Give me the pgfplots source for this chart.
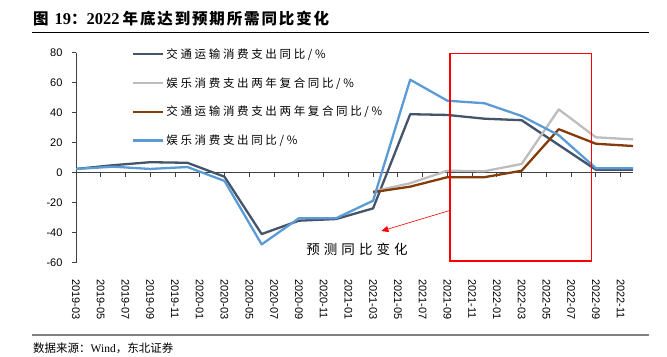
\documentclass[border=0pt]{standalone}
\usepackage{fontspec}
\usepackage{pgfplots}
\pgfplotsset{compat=1.18}
\usetikzlibrary{arrows.meta}
\setmainfont{Liberation Sans}
\newfontfamily\cjk{Noto Sans CJK SC}
\newfontfamily\cjkt[LetterSpace=12]{Noto Sans CJK SC}
\newfontfamily\cjkleg[LetterSpace=23]{Noto Sans CJK SC}
\newfontfamily\cjkann[LetterSpace=30]{Noto Sans CJK SC}
\newfontfamily\serif{Liberation Serif}
\definecolor{cdark}{HTML}{44546A}
\definecolor{cgray}{HTML}{BDBDBD}
\definecolor{cbrown}{HTML}{843C0C}
\definecolor{cblue}{HTML}{5B9BD5}
\definecolor{caxis}{HTML}{404040}

\pgfplotstableread{
x y
0 2.5
3 5.0
6 7.0
9 6.6
12 -2.7
15 -40.9
18 -32.0
21 -30.9
24 -23.8
27 39.0
30 38.5
33 36.0
36 35.0
39 18.5
42 2.0
45 2.0
}\transyoy
\pgfplotstableread{
x y
24 -12.5
27 -7.0
30 1.3
33 1.0
36 5.8
39 42.2
42 23.6
45 22.2
}\entcagr
\pgfplotstableread{
x y
24 -13.0
27 -9.3
30 -3.0
33 -3.0
36 1.3
39 29.0
42 19.3
45 17.8
}\transcagr
\pgfplotstableread{
x y
0 2.5
3 4.0
6 2.5
9 3.8
12 -5.5
15 -47.8
18 -30.4
21 -30.4
24 -18.7
27 62.0
30 48.0
33 46.3
36 37.8
39 25.0
42 3.0
45 3.0
}\entyoy

\begin{document}
\begin{tikzpicture}
\useasboundingbox (0,0) rectangle (667bp,357bp);
% title
\node[anchor=base west, inner sep=0pt] at (33bp,332.5bp) {\cjkt\bfseries\fontsize{15.5bp}{18bp}\selectfont 图\hspace{6bp}{\serif\bfseries\fontsize{16.5bp}{18bp}\selectfont 19}：{\serif\bfseries\fontsize{16.5bp}{18bp}\selectfont 2022}\hspace{3bp}年底达到预期所需同比变化};
\draw[black, line width=0.9bp] (32bp,324.7bp) -- (649bp,324.7bp);
\draw[gray, line width=1.5bp] (32bp,22bp) -- (649bp,22bp);
\node[anchor=west, inner sep=0pt] at (33bp,8.8bp) {\cjk\fontsize{11.5bp}{13bp}\selectfont 数据来源：{\serif Wind}，东北证券};

% zero line with ticks
\begin{axis}[at={(76bp,94.3bp)}, anchor=south west, scale only axis,
  width=557bp, height=210bp,
  xmin=0, xmax=45, ymin=-60, ymax=80,
  axis x line=middle, axis y line=none,
  axis line style={-},
  x axis line style={draw=caxis, line width=0.9bp},
  xtick={0,2,...,44}, xticklabels={}, ytick=\empty,
  tick align=outside, major tick length=4bp,
  xtick style={draw=caxis, line width=0.9bp},
  hide obscured x ticks=false]
\end{axis}

\begin{axis}[at={(76bp,94.3bp)}, anchor=south west, scale only axis,
  width=557bp, height=210bp,
  xmin=0, xmax=45, ymin=-60, ymax=80,
  axis y line=left, axis x line=bottom,
  x axis line style={draw=none},
  y axis line style={-, draw=caxis, line width=0.9bp},
  xtick={0,2,...,44},
  xticklabels={2019-03,2019-05,2019-07,2019-09,2019-11,2020-01,2020-03,2020-05,2020-07,2020-09,2020-11,2021-01,2021-03,2021-05,2021-07,2021-09,2021-11,2022-01,2022-03,2022-05,2022-07,2022-09,2022-11},
  xtick style={draw=none},
  ytick={-60,-40,...,80},
  ytick style={draw=caxis, line width=0.9bp},
  tick align=outside, major tick length=4bp,
  tick label style={font=\fontsize{11bp}{13bp}\selectfont},
  /pgf/number format/assume math mode=true,
  xticklabel style={rotate=-90, anchor=west},
  xticklabel shift=9bp,
  yticklabel shift=6bp,
  legend style={at={(0.1005,1.03)}, anchor=north west, draw=none, fill=none,
    inner sep=0pt, row sep=13.5bp, font=\cjkleg\fontsize{11.5bp}{13bp}\selectfont},
  legend cell align=left,
  legend image code/.code={\draw[#1] (0bp,0bp) -- (30bp,0bp);},
  every axis plot/.append style={line width=2.3bp, line join=round}]
\addplot[cdark, mark=none] table {\transyoy};
\addlegendentry{交通运输消费支出同比/\%}
\addplot[cgray, mark=none] table {\entcagr};
\addlegendentry{娱乐消费支出两年复合同比/\%}
\addplot[cbrown, mark=none] table {\transcagr};
\addlegendentry{交通运输消费支出两年复合同比/\%}
\addplot[cblue, mark=none] table {\entyoy};
\addlegendentry{娱乐消费支出同比/\%}
\draw[red, line width=1.5bp] (axis cs:30.2,-58.7) rectangle (axis cs:41.65,79.6);
\draw[red, line width=0.6bp, -{Triangle[length=7bp,width=6bp]}] (axis cs:30.15,-25.3) -- (axis cs:24.67,-38.9);
\node[inner sep=0pt] at (axis cs:22.7,-50.9) {\cjkann\fontsize{13.5bp}{15bp}\selectfont 预测同比变化};
\end{axis}
\end{tikzpicture}
\end{document}
